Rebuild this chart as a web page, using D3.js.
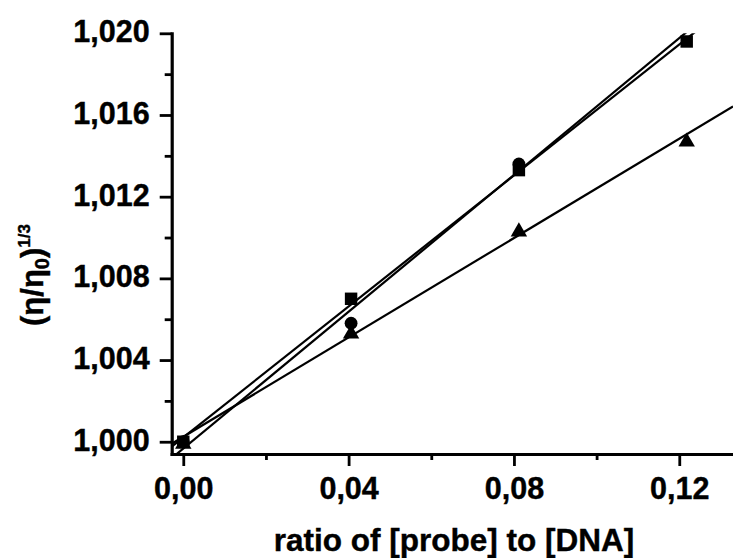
<!DOCTYPE html>
<html>
<head>
<meta charset="utf-8">
<script src="https://cdn.jsdelivr.net/npm/d3@7"></script>
<style>
  html, body { margin: 0; padding: 0; background: #fff; }
  svg { display: block; }
  text { font-family: "Liberation Sans", Arial, sans-serif; font-weight: bold; fill: #000; stroke: #000; stroke-width: 0.4px; }
</style>
</head>
<body>
<svg id="chart" width="733" height="558"></svg>
<script>
// Probe-to-DNA ratio (x) for every series
const ratios = [0, 0.0406, 0.0812, 0.1218];

// Relative viscosity (η/η0)^(1/3) for the three series
const squareValues   = [1.0000, 1.0070, 1.0133, 1.0196];
const circleValues   = [1.0000, 1.0058, 1.0136];
const triangleValues = [1.0000, 1.0054, 1.0104, 1.0148];

// Axis ticks
const xMajorTicks = [0, 0.04, 0.08, 0.12];
const xMinorTicks = [0.02, 0.06, 0.10];
const yMajorTicks = [1.000, 1.004, 1.008, 1.012, 1.016, 1.020];
const yMinorTicks = [1.002, 1.006, 1.010, 1.014, 1.018];

const xTitle = "ratio of [probe] to [DNA]";

const svg = d3.select("#chart");

const plotLeft = 171.7, plotRight = 733, plotTop = 33.3, plotBottom = 454;

const x = d3.scaleLinear().domain([-0.0028, 0.1330]).range([plotLeft, plotRight]);
const y = d3.scaleLinear().domain([0.99940, 1.020]).range([plotBottom, plotTop]);

const comma = d3.formatLocale({ decimal: ",", thousands: ".", grouping: [3], currency: ["", ""] });
const fx = comma.format(".2f");
const fy = comma.format(".3f");

svg.append("defs").append("clipPath").attr("id", "plot")
  .append("rect").attr("x", plotLeft).attr("y", plotTop)
  .attr("width", plotRight - plotLeft).attr("height", plotBottom - plotTop);

// Least-squares fit lines drawn over the full x range
function fit(xs, ys) {
  const mx = d3.mean(xs), my = d3.mean(ys);
  let sxy = 0, sxx = 0;
  xs.forEach((v, i) => { sxy += (v - mx) * (ys[i] - my); sxx += (v - mx) * (v - mx); });
  const slope = sxy / sxx;
  return { slope, intercept: my - slope * mx };
}

const series = [
  { values: squareValues, shape: "square" },
  { values: circleValues, shape: "circle" },
  { values: triangleValues, shape: "triangle" }
];

const lineGen = d3.line().x(d => x(d[0])).y(d => y(d[1]));
const fits = svg.append("g").attr("clip-path", "url(#plot)");
series.forEach(s => {
  const xs = ratios.slice(0, s.values.length);
  const f = fit(xs, s.values);
  const [x0, x1] = x.domain();
  fits.append("path")
    .attr("d", lineGen([[x0, f.intercept + f.slope * x0], [x1, f.intercept + f.slope * x1]]))
    .attr("fill", "none").attr("stroke", "#000").attr("stroke-width", 2.2);
});

// Triangle centred on its bounding box
const triangleBox = {
  draw(ctx, size) {
    const w = Math.sqrt(size), h = w * 0.86;
    ctx.moveTo(0, -h / 2);
    ctx.lineTo(w / 2, h / 2);
    ctx.lineTo(-w / 2, h / 2);
    ctx.closePath();
  }
};
const symbols = {
  square: d3.symbol().type(d3.symbolSquare).size(155),
  circle: d3.symbol().type(d3.symbolCircle).size(130),
  triangle: d3.symbol().type(triangleBox).size(270)
};

const marks = svg.append("g");
series.forEach(s => {
  marks.selectAll(null).data(s.values).join("path")
    .attr("transform", (v, i) => `translate(${x(ratios[i])},${y(v)})`)
    .attr("d", symbols[s.shape]())
    .attr("fill", "#000");
});

// Axes
function styleAxis(g) {
  g.select(".domain").attr("stroke-width", 3.2).attr("stroke-linecap", "square");
  g.selectAll(".tick line").attr("stroke-width", 2.8);
  g.selectAll(".tick text").attr("font-size", 30.5).attr("font-family", "Liberation Sans, Arial, sans-serif").attr("font-weight", "bold");
}

svg.append("g").attr("transform", `translate(0,${plotBottom})`)
  .call(d3.axisBottom(x).tickValues(xMinorTicks).tickSize(6).tickSizeOuter(0).tickFormat(""))
  .call(g => { g.select(".domain").remove(); g.selectAll(".tick line").attr("stroke-width", 2.8); });
svg.append("g").attr("transform", `translate(0,${plotBottom})`)
  .call(d3.axisBottom(x).tickValues(xMajorTicks).tickSize(12).tickPadding(11).tickSizeOuter(0).tickFormat(fx))
  .call(styleAxis);

svg.append("g").attr("transform", `translate(${plotLeft},0)`)
  .call(d3.axisLeft(y).tickValues(yMinorTicks).tickSize(7).tickSizeOuter(0).tickFormat(""))
  .call(g => { g.select(".domain").remove(); g.selectAll(".tick line").attr("stroke-width", 2.8); });
svg.append("g").attr("transform", `translate(${plotLeft},0)`)
  .call(d3.axisLeft(y).tickValues(yMajorTicks).tickSize(12).tickPadding(10).tickSizeOuter(0).tickFormat(fy))
  .call(styleAxis)
  .call(g => g.selectAll(".tick text").attr("dy", "0.28em"));

// Axis titles
svg.append("text")
  .attr("x", 454).attr("y", 551)
  .attr("text-anchor", "middle")
  .attr("font-size", 31.5)
  .text(xTitle);

const yTitle = svg.append("text")
  .attr("transform", "translate(43,275) rotate(-90)")
  .attr("text-anchor", "middle")
  .attr("font-size", 31);
yTitle.append("tspan").text("(η/η");
yTitle.append("tspan").attr("font-size", 20).attr("dy", 6).text("0");
yTitle.append("tspan").attr("dy", -6).text(")");
yTitle.append("tspan").attr("font-size", 17).attr("dy", -13).text("1/3");
</script>
</body>
</html>
